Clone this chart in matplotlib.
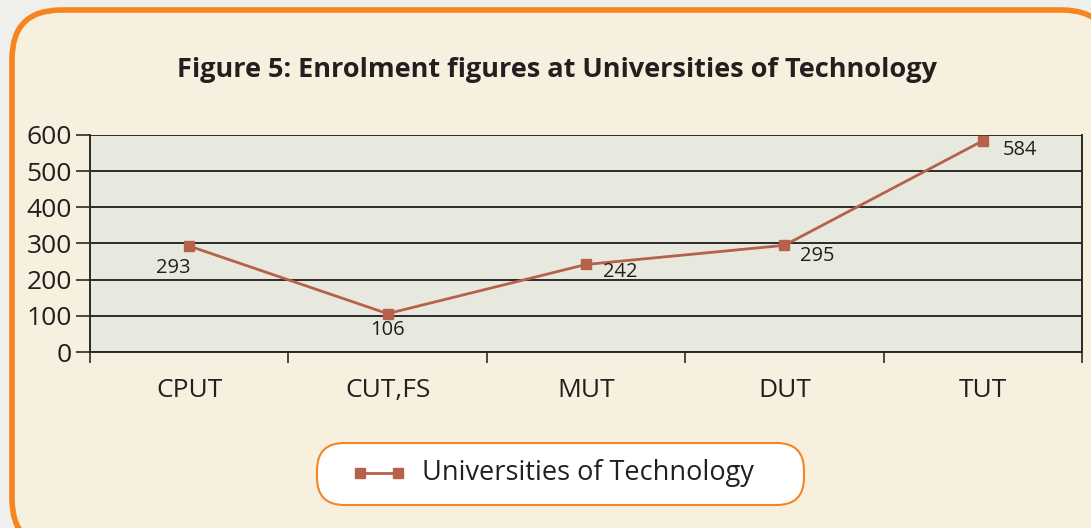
import matplotlib
matplotlib.use("Agg")
import matplotlib.pyplot as plt
from matplotlib.patches import FancyBboxPatch
from matplotlib.lines import Line2D

# data
universities = ["CPUT", "CUT,FS", "MUT", "DUT", "TUT"]
enrolment = [293, 106, 242, 295, 584]
series_name = "Universities of Technology"
title = "Figure 5: Enrolment figures at Universities of Technology"

W, H = 1091, 528
plt.rcParams['font.family'] = ['Open Sans', 'DejaVu Sans']

fig = plt.figure(figsize=(W / 100, H / 100), dpi=100)
fig.patch.set_facecolor("#efefec")

# orange rounded panel
panel = FancyBboxPatch((12 / W, -20 / H), (W + 20 - 12) / W, (H + 20 - 10) / H,
                       boxstyle="round,pad=0,rounding_size=0.045",
                       transform=fig.transFigure, facecolor="#f8f0de",
                       edgecolor="#f5861f", linewidth=4, zorder=-2,
                       mutation_aspect=W / H)
fig.patches.append(panel)

ax = fig.add_axes([90 / W, (H - 352) / H, (1082 - 90) / W, (352 - 135) / H])
ax.set_facecolor("#e7e9df")

x = list(range(len(universities)))
line_col = "#b5614b"
ax.plot(x, enrolment, color=line_col, linewidth=2, marker="s",
        markersize=7, zorder=3, clip_on=False)

ax.set_xlim(-0.5, len(universities) - 0.5)
ax.set_ylim(0, 600)
ax.set_yticks(range(0, 601, 100))
ax.yaxis.grid(True, color="#2a2a2a", linewidth=1.4)
ax.set_axisbelow(True)

ax.set_xticks(x)
ax.set_xticklabels(universities)
ax.set_xticks([i - 0.5 for i in range(len(universities) + 1)], minor=True)
ax.tick_params(axis="x", which="major", length=0, pad=19, labelsize=19,
               labelcolor="#231f20")
ax.tick_params(axis="x", which="minor", length=8, width=1.2, color="#2a2a2a",
               direction="out")
ax.tick_params(axis="y", length=10, width=1.2, color="#2a2a2a", pad=3,
               labelsize=19, labelcolor="#231f20")

for s in ["left", "right", "bottom"]:
    ax.spines[s].set_color("#2a2a2a")
    ax.spines[s].set_linewidth(1.4)
ax.spines["top"].set_visible(False)

# data labels
offsets = [(-16, -22), (0, -16), (34, -8), (33, -11), (37, -9)]
for xi, yi, (dx, dy) in zip(x, enrolment, offsets):
    ax.annotate(str(yi), (xi, yi), xytext=(dx, dy), textcoords="offset pixels",
                ha="center", va="center", fontsize=14.5, color="#231f20")

fig.text(557 / W, 1 - 70 / H, title, ha="center", va="center",
         fontsize=19.5, fontweight="bold", color="#231f20")

# legend box
lb = FancyBboxPatch((317 / W, (H - 505) / H), (804 - 317) / W, (505 - 443) / H,
                    boxstyle="round,pad=0,rounding_size=0.025",
                    transform=fig.transFigure, facecolor="white",
                    edgecolor="#f5861f", linewidth=1.5, zorder=1,
                    mutation_aspect=W / H)
fig.patches.append(lb)
fig.lines.append(Line2D([360 / W, 398 / W], [(H - 473) / H] * 2,
                        transform=fig.transFigure, color=line_col,
                        linewidth=2, marker="s", markersize=7, zorder=2))
fig.text(422 / W, 1 - 473 / H, series_name, ha="left", va="center",
         fontsize=19.5, color="#231f20")

fig.savefig("out.png", dpi=100, facecolor=fig.get_facecolor())
